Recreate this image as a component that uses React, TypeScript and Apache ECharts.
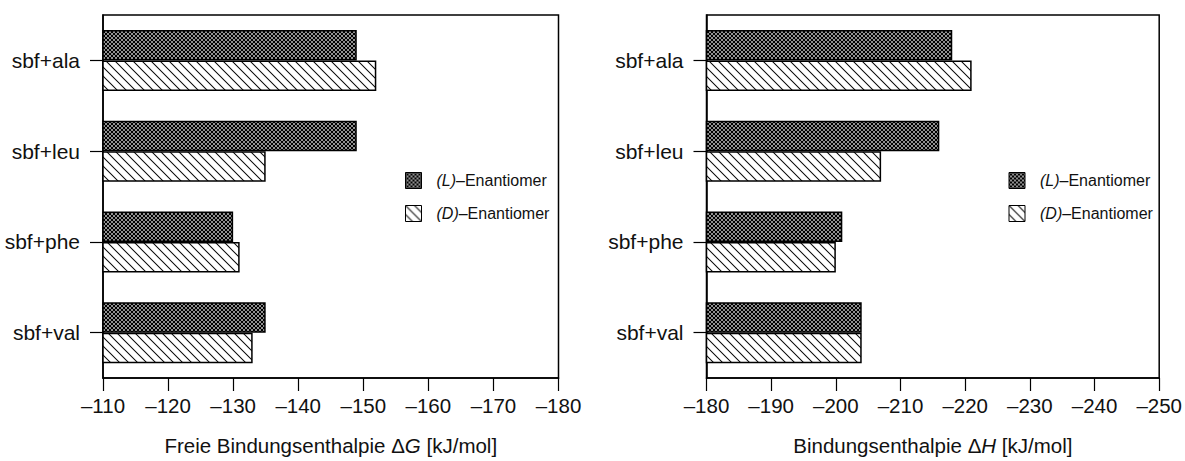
import React, { useEffect, useRef } from "react";
import * as echarts from "echarts";

const categories = ["sbf+ala", "sbf+leu", "sbf+phe", "sbf+val"];
const seriesNames = ["(L)–Enantiomer", "(D)–Enantiomer"];
// Freie Bindungsenthalpie ΔG [kJ/mol]
const dG_L = [-149, -149, -130, -135];
const dG_D = [-152, -135, -131, -133];
// Bindungsenthalpie ΔH [kJ/mol]
const dH_L = [-218, -216, -201, -204];
const dH_D = [-221, -207, -200, -204];
const gRange = [-180, -110];
const hRange = [-250, -180];

const FONT = "'Liberation Sans', Arial, Helvetica, sans-serif";

function makePattern(kind: "cross" | "diag") {
  const size = kind === "cross" ? 4 : 9;
  const scale = 4;
  const c = document.createElement("canvas");
  c.width = size * scale;
  c.height = size * scale;
  const ctx = c.getContext("2d")!;
  ctx.scale(scale, scale);
  ctx.fillStyle = "#fff";
  ctx.fillRect(0, 0, size, size);
  ctx.strokeStyle = "#000";
  ctx.lineWidth = kind === "cross" ? 1.3 : 1.0;
  const line = (x1: number, y1: number, x2: number, y2: number) => {
    ctx.beginPath();
    ctx.moveTo(x1, y1);
    ctx.lineTo(x2, y2);
    ctx.stroke();
  };
  for (const off of [-size, 0, size]) {
    line(off - 1, -1, off + size + 1, size + 1);
    if (kind === "cross") line(off - 1, size + 1, off + size + 1, -1);
  }
  return {
    image: c.toDataURL(),
    repeat: "repeat",
    imageWidth: size,
    imageHeight: size,
  } as any;
}

export default function App() {
  const ref = useRef<HTMLDivElement>(null);
  useEffect(() => {
    document.body.style.margin = "0";
    const chart = echarts.init(ref.current!, null, { renderer: "svg" });
    const patL = makePattern("cross");
    const patD = makePattern("diag");
    const grids = [
      { left: 103, top: 15, width: 455.5, height: 366.5 },
      { left: 706.5, top: 15, width: 455, height: 366.5 },
    ];
    const xName = [
      "{n|Freie Bindungsenthalpie Δ}{i|G}{n| [kJ/mol]}",
      "{n|Bindungsenthalpie Δ}{i|H}{n| [kJ/mol]}",
    ];
    const ranges = [gRange, hRange];
    const data = [
      [dG_L, dG_D],
      [dH_L, dH_D],
    ];
    const legendLeft = [405, 1008.5];
    const option: any = {
      animation: false,
      textStyle: { fontFamily: FONT },
      grid: grids.map((g) => ({
        ...g,
        show: true,
        borderColor: "#000",
        borderWidth: 1.5,
        backgroundColor: "transparent",
      })),
      legend: legendLeft.map((l) => ({
        data: seriesNames,
        orient: "vertical",
        left: l,
        top: 172,
        padding: 0,
        itemWidth: 16,
        itemHeight: 16,
        itemGap: 16,
        icon: "rect",
        selectedMode: false,
        itemStyle: { borderColor: "#000", borderWidth: 1 },
        formatter: (name: string) =>
          name.replace(/^\((\w)\)(.*)$/, "{i|($1)}{n|$2}"),
        textStyle: {
          fontFamily: FONT,
          fontSize: 16,
          color: "#111",
          padding: [0, 0, 0, 10],
          rich: {
            i: { fontStyle: "italic", fontSize: 16, fontFamily: FONT, color: "#111" },
            n: { fontSize: 16, fontFamily: FONT, color: "#111" },
          },
        },
      })),
      xAxis: ranges.map((r, i) => ({
        type: "value",
        gridIndex: i,
        min: r[0],
        max: r[1],
        interval: 10,
        inverse: true,
        splitLine: { show: false },
        axisLine: { show: true, lineStyle: { color: "#000", width: 1.5 } },
        axisTick: { show: true, length: 13, lineStyle: { color: "#000", width: 1.2 } },
        axisLabel: {
          fontSize: 20.5,
          fontFamily: FONT,
          color: "#111",
          margin: 17,
          showMinLabel: true,
          showMaxLabel: true,
          formatter: (v: number) => (v < 0 ? "–" + Math.abs(v) : String(v)),
        },
        name: xName[i],
        nameLocation: "middle",
        nameGap: 57,
        nameTextStyle: {
          fontSize: 20.5,
          fontFamily: FONT,
          color: "#111",
          rich: {
            n: { fontSize: 20.5, fontFamily: FONT, color: "#111" },
            i: { fontSize: 20.5, fontFamily: FONT, color: "#111", fontStyle: "italic" },
          },
        },
      })),
      yAxis: ranges.map((_, i) => ({
        type: "category",
        gridIndex: i,
        data: categories,
        inverse: true,
        axisLine: { show: true, lineStyle: { color: "#000", width: 1.5 } },
        axisTick: {
          show: true,
          alignWithLabel: true,
          length: 13,
          lineStyle: { color: "#000", width: 1.2 },
        },
        axisLabel: { fontSize: 21, fontFamily: FONT, color: "#111", margin: 23 },
      })),
      series: data.flatMap((pair, gi) =>
        pair.map((vals, si) => ({
          type: "bar",
          name: seriesNames[si],
          xAxisIndex: gi,
          yAxisIndex: gi,
          data: vals,
          barWidth: 30.5,
          barGap: "0%",
          clip: true,
          itemStyle: {
            color: si === 0 ? patL : patD,
            borderColor: "#000",
            borderWidth: 1.5,
          },
        }))
      ),
    };
    chart.setOption(option);
    return () => chart.dispose();
  }, []);
  return <div ref={ref} style={{ width: 1185, height: 461 }} />;
}
